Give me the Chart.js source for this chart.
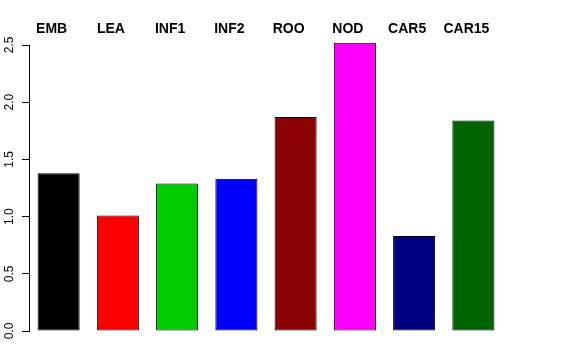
<!DOCTYPE html>
<html>
<head>
<meta charset="utf-8">
<script src="https://cdn.jsdelivr.net/npm/chart.js@4/dist/chart.umd.min.js"></script>
<style>
  html, body { margin: 0; padding: 0; background: #fff; }
  canvas { display: block; }
</style>
</head>
<body>
<canvas id="barChart" width="576" height="360"></canvas>
<script>
// values
const categories = ['EMB', 'LEA', 'INF1', 'INF2', 'ROO', 'NOD', 'CAR5', 'CAR15'];
const values = [1.38, 1.01, 1.29, 1.33, 1.87, 2.52, 0.83, 1.84];
const barColors = ['#000000', '#FF0000', '#00CD00', '#0000FF', '#8B0000', '#FF00FF', '#000080', '#006400'];
const yTicks = [0, 0.5, 1, 1.5, 2, 2.5];

const ctx = document.getElementById('barChart').getContext('2d');

new Chart(ctx, {
    type: 'bar',
    data: {
        labels: categories,
        datasets: [{
            data: values,
            backgroundColor: barColors,
            borderColor: '#000000',
            borderWidth: 1,
            borderSkipped: false,
            barPercentage: 0.71,
            categoryPercentage: 1.0,
            clip: false
        }]
    },
    options: {
        responsive: false,
        animation: false,
        layout: {
            padding: { left: 0, right: 73, top: 0, bottom: 29 }
        },
        plugins: {
            legend: { display: false },
            tooltip: { enabled: false }
        },
        scales: {
            x: {
                position: 'top',
                grid: { display: false, drawTicks: false },
                border: { display: false },
                ticks: {
                    color: '#000',
                    padding: 7,
                    labelOffset: -7,
                    maxRotation: 0,
                    font: { family: 'Liberation Sans', size: 14, weight: 'bold' }
                },
                afterFit: function(scale) { scale.height = 45; }
            },
            y: {
                min: 0,
                max: 2.5,
                afterBuildTicks: function(scale) {
                    scale.ticks = yTicks.map(v => ({ value: v }));
                },
                grid: {
                    drawOnChartArea: false,
                    drawTicks: true,
                    tickLength: 7,
                    color: '#000'
                },
                border: { display: true, color: '#000', width: 1 },
                ticks: {
                    color: '#000',
                    minRotation: 90,
                    maxRotation: 90,
                    crossAlign: 'center',
                    padding: 4,
                    font: { family: 'Liberation Sans', size: 12 },
                    callback: function(v) { return Number(v).toFixed(1); }
                },
                afterFit: function(scale) { scale.width = 29; }
            }
        }
    }
});
</script>
</body>
</html>
